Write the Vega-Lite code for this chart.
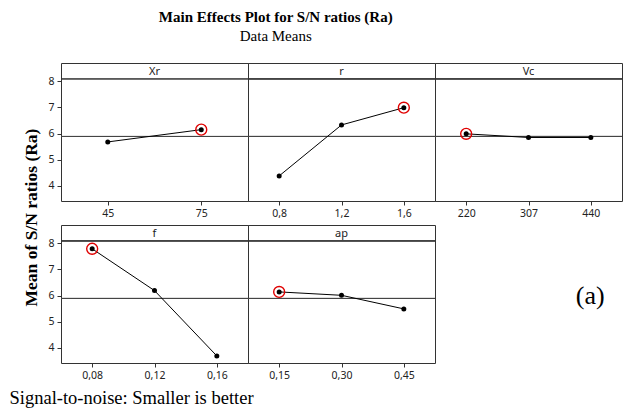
{
  "$schema": "https://vega.github.io/schema/vega-lite/v6.json",
  "padding": {"left": 8, "right": 2, "top": 9, "bottom": 5},
  "background": "white",
  "datasets": {
    "main": [
      {"factor": "Xr", "level": "45", "sn": 5.68},
      {"factor": "Xr", "level": "75", "sn": 6.15},
      {"factor": "r", "level": "0,8", "sn": 4.38},
      {"factor": "r", "level": "1,2", "sn": 6.33},
      {"factor": "r", "level": "1,6", "sn": 6.99},
      {"factor": "Vc", "level": "220", "sn": 5.99},
      {"factor": "Vc", "level": "307", "sn": 5.85},
      {"factor": "Vc", "level": "440", "sn": 5.85},
      {"factor": "f", "level": "0,08", "sn": 7.79},
      {"factor": "f", "level": "0,12", "sn": 6.19},
      {"factor": "f", "level": "0,16", "sn": 3.69},
      {"factor": "ap", "level": "0,15", "sn": 6.14},
      {"factor": "ap", "level": "0,30", "sn": 6.01},
      {"factor": "ap", "level": "0,45", "sn": 5.49}
    ],
    "note": [{"label": "(a)"}]
  },
  "title": {
    "text": "Main Effects Plot for S/N ratios (Ra)",
    "subtitle": "Data Means",
    "font": "Liberation Serif",
    "fontSize": 15,
    "fontWeight": "bold",
    "color": "black",
    "subtitleFont": "Liberation Serif",
    "subtitleFontSize": 15,
    "subtitleColor": "black",
    "subtitlePadding": 4,
    "anchor": "middle",
    "dx": -40,
    "offset": 19
  },
  "config": {
    "view": {"stroke": "#333", "strokeWidth": 1},
    "axis": {
      "labelFont": "Noto Sans",
      "labelFontSize": 10.5,
      "labelColor": "#222",
      "tickColor": "#333",
      "tickSize": 4,
      "domain": false,
      "grid": false
    },
    "title": {"font": "Noto Sans", "fontSize": 11, "fontWeight": "normal", "color": "#222"}
  },
  "columns": 3,
  "spacing": {"row": 24, "column": 0},
  "bounds": "flush",
  "concat": [
    {
      "width": 187, "height": 138,
      "data": {"name": "main"},
      "transform": [{"filter": "datum.factor == 'Xr'"}],
      "title": {"text": "Xr", "offset": -20, "baseline": "middle", "frame": "group", "anchor": "middle"},
      "layer": [
        {"mark": {"type": "rule", "color": "#444", "strokeWidth": 1}, "encoding": {"y": {"datum": 5.89, "type": "quantitative", "scale": {"domain": [3.42, 8.7], "nice": false, "zero": false}, "axis": {"values": [4, 5, 6, 7, 8], "title": "Mean of S/N ratios (Ra)", "titleFont": "Liberation Serif", "titleFontSize": 17.5, "titleFontWeight": "bold", "titleColor": "black", "titlePadding": 7, "titleY": 154, "labelPadding": 3}}}},
        {"mark": {"type": "rule", "color": "#333", "strokeWidth": 1}, "encoding": {"y": {"datum": 8.09, "type": "quantitative", "scale": {"domain": [3.42, 8.7], "nice": false, "zero": false}, "axis": {"values": [4, 5, 6, 7, 8], "title": "Mean of S/N ratios (Ra)", "titleFont": "Liberation Serif", "titleFontSize": 17.5, "titleFontWeight": "bold", "titleColor": "black", "titlePadding": 7, "titleY": 154, "labelPadding": 3}}}},
        {"mark": {"type": "line", "color": "black", "strokeWidth": 1},
         "encoding": {
           "x": {"field": "level", "type": "ordinal", "scale": {"type": "point", "padding": 0.5}, "axis": {"title": null, "labelAngle": 0, "labelPadding": 3}},
           "y": {"field": "sn", "type": "quantitative", "scale": {"domain": [3.42, 8.7], "nice": false, "zero": false}, "axis": {"values": [4, 5, 6, 7, 8], "title": "Mean of S/N ratios (Ra)", "titleFont": "Liberation Serif", "titleFontSize": 17.5, "titleFontWeight": "bold", "titleColor": "black", "titlePadding": 7, "titleY": 154, "labelPadding": 3}}}},
        {"mark": {"type": "point", "filled": true, "color": "black", "size": 25, "opacity": 1},
         "encoding": {
           "x": {"field": "level", "type": "ordinal", "axis": {"title": null, "labelAngle": 0, "labelPadding": 3}},
           "y": {"field": "sn", "type": "quantitative", "axis": {"values": [4, 5, 6, 7, 8], "title": "Mean of S/N ratios (Ra)", "titleFont": "Liberation Serif", "titleFontSize": 17.5, "titleFontWeight": "bold", "titleColor": "black", "titlePadding": 7, "titleY": 154, "labelPadding": 3}}}},
        {"transform": [{"joinaggregate": [{"op": "max", "field": "sn", "as": "mx"}]}, {"filter": "datum.sn == datum.mx"}],
         "mark": {"type": "point", "filled": false, "color": "#e00000", "size": 120, "strokeWidth": 1.4, "opacity": 1},
         "encoding": {
           "x": {"field": "level", "type": "ordinal", "axis": {"title": null, "labelAngle": 0, "labelPadding": 3}},
           "y": {"field": "sn", "type": "quantitative", "axis": {"values": [4, 5, 6, 7, 8], "title": "Mean of S/N ratios (Ra)", "titleFont": "Liberation Serif", "titleFontSize": 17.5, "titleFontWeight": "bold", "titleColor": "black", "titlePadding": 7, "titleY": 154, "labelPadding": 3}}}}
      ]
    },
    {
      "width": 187, "height": 138,
      "data": {"name": "main"},
      "transform": [{"filter": "datum.factor == 'r'"}],
      "title": {"text": "r", "offset": -20, "baseline": "middle", "frame": "group", "anchor": "middle"},
      "layer": [
        {"mark": {"type": "rule", "color": "#444", "strokeWidth": 1}, "encoding": {"y": {"datum": 5.89, "type": "quantitative", "scale": {"domain": [3.42, 8.7], "nice": false, "zero": false}, "axis": null}}},
        {"mark": {"type": "rule", "color": "#333", "strokeWidth": 1}, "encoding": {"y": {"datum": 8.09, "type": "quantitative", "scale": {"domain": [3.42, 8.7], "nice": false, "zero": false}, "axis": null}}},
        {"mark": {"type": "line", "color": "black", "strokeWidth": 1},
         "encoding": {
           "x": {"field": "level", "type": "ordinal", "scale": {"type": "point", "padding": 0.5}, "axis": {"title": null, "labelAngle": 0, "labelPadding": 3}},
           "y": {"field": "sn", "type": "quantitative", "scale": {"domain": [3.42, 8.7], "nice": false, "zero": false}, "axis": null}}},
        {"mark": {"type": "point", "filled": true, "color": "black", "size": 25, "opacity": 1},
         "encoding": {"x": {"field": "level", "type": "ordinal", "axis": {"title": null, "labelAngle": 0, "labelPadding": 3}}, "y": {"field": "sn", "type": "quantitative", "axis": null}}},
        {"transform": [{"joinaggregate": [{"op": "max", "field": "sn", "as": "mx"}]}, {"filter": "datum.sn == datum.mx"}],
         "mark": {"type": "point", "filled": false, "color": "#e00000", "size": 120, "strokeWidth": 1.4, "opacity": 1},
         "encoding": {"x": {"field": "level", "type": "ordinal", "axis": {"title": null, "labelAngle": 0, "labelPadding": 3}}, "y": {"field": "sn", "type": "quantitative", "axis": null}}}
      ]
    },
    {
      "width": 187, "height": 138,
      "data": {"name": "main"},
      "transform": [{"filter": "datum.factor == 'Vc'"}],
      "title": {"text": "Vc", "offset": -20, "baseline": "middle", "frame": "group", "anchor": "middle"},
      "layer": [
        {"mark": {"type": "rule", "color": "#444", "strokeWidth": 1}, "encoding": {"y": {"datum": 5.89, "type": "quantitative", "scale": {"domain": [3.42, 8.7], "nice": false, "zero": false}, "axis": null}}},
        {"mark": {"type": "rule", "color": "#333", "strokeWidth": 1}, "encoding": {"y": {"datum": 8.09, "type": "quantitative", "scale": {"domain": [3.42, 8.7], "nice": false, "zero": false}, "axis": null}}},
        {"mark": {"type": "line", "color": "black", "strokeWidth": 1},
         "encoding": {
           "x": {"field": "level", "type": "ordinal", "scale": {"type": "point", "padding": 0.5}, "axis": {"title": null, "labelAngle": 0, "labelPadding": 3}},
           "y": {"field": "sn", "type": "quantitative", "scale": {"domain": [3.42, 8.7], "nice": false, "zero": false}, "axis": null}}},
        {"mark": {"type": "point", "filled": true, "color": "black", "size": 25, "opacity": 1},
         "encoding": {"x": {"field": "level", "type": "ordinal", "axis": {"title": null, "labelAngle": 0, "labelPadding": 3}}, "y": {"field": "sn", "type": "quantitative", "axis": null}}},
        {"transform": [{"joinaggregate": [{"op": "max", "field": "sn", "as": "mx"}]}, {"filter": "datum.sn == datum.mx"}],
         "mark": {"type": "point", "filled": false, "color": "#e00000", "size": 120, "strokeWidth": 1.4, "opacity": 1},
         "encoding": {"x": {"field": "level", "type": "ordinal", "axis": {"title": null, "labelAngle": 0, "labelPadding": 3}}, "y": {"field": "sn", "type": "quantitative", "axis": null}}}
      ]
    },
    {
      "width": 187, "height": 138,
      "data": {"name": "main"},
      "transform": [{"filter": "datum.factor == 'f'"}],
      "title": {"text": "f", "offset": -20, "baseline": "middle", "frame": "group", "anchor": "middle"},
      "layer": [
        {"mark": {"type": "rule", "color": "#444", "strokeWidth": 1}, "encoding": {"y": {"datum": 5.89, "type": "quantitative", "scale": {"domain": [3.42, 8.7], "nice": false, "zero": false}, "axis": {"values": [4, 5, 6, 7, 8], "title": null, "labelPadding": 3}}}},
        {"mark": {"type": "rule", "color": "#333", "strokeWidth": 1}, "encoding": {"y": {"datum": 8.09, "type": "quantitative", "scale": {"domain": [3.42, 8.7], "nice": false, "zero": false}, "axis": {"values": [4, 5, 6, 7, 8], "title": null, "labelPadding": 3}}}},
        {"mark": {"type": "line", "color": "black", "strokeWidth": 1},
         "encoding": {
           "x": {"field": "level", "type": "ordinal", "scale": {"type": "point", "padding": 0.5},
                 "axis": {"title": "Signal-to-noise: Smaller is better", "titleFont": "Liberation Serif", "titleFontSize": 18.5, "titleFontWeight": "normal", "titleColor": "black", "titleAnchor": "start", "titleAlign": "left", "titleX": -52, "titleY": 40, "titleBaseline": "alphabetic", "labelAngle": 0, "labelPadding": 3}},
           "y": {"field": "sn", "type": "quantitative", "scale": {"domain": [3.42, 8.7], "nice": false, "zero": false}, "axis": {"values": [4, 5, 6, 7, 8], "title": null, "labelPadding": 3}}}},
        {"mark": {"type": "point", "filled": true, "color": "black", "size": 25, "opacity": 1},
         "encoding": {
           "x": {"field": "level", "type": "ordinal", "axis": {"title": "Signal-to-noise: Smaller is better", "titleFont": "Liberation Serif", "titleFontSize": 18.5, "titleFontWeight": "normal", "titleColor": "black", "titleAnchor": "start", "titleAlign": "left", "titleX": -52, "titleY": 40, "titleBaseline": "alphabetic", "labelAngle": 0, "labelPadding": 3}},
           "y": {"field": "sn", "type": "quantitative", "axis": {"values": [4, 5, 6, 7, 8], "title": null, "labelPadding": 3}}}},
        {"transform": [{"joinaggregate": [{"op": "max", "field": "sn", "as": "mx"}]}, {"filter": "datum.sn == datum.mx"}],
         "mark": {"type": "point", "filled": false, "color": "#e00000", "size": 120, "strokeWidth": 1.4, "opacity": 1},
         "encoding": {
           "x": {"field": "level", "type": "ordinal", "axis": {"title": "Signal-to-noise: Smaller is better", "titleFont": "Liberation Serif", "titleFontSize": 18.5, "titleFontWeight": "normal", "titleColor": "black", "titleAnchor": "start", "titleAlign": "left", "titleX": -52, "titleY": 40, "titleBaseline": "alphabetic", "labelAngle": 0, "labelPadding": 3}},
           "y": {"field": "sn", "type": "quantitative", "axis": {"values": [4, 5, 6, 7, 8], "title": null, "labelPadding": 3}}}}
      ]
    },
    {
      "width": 187, "height": 138,
      "data": {"name": "main"},
      "transform": [{"filter": "datum.factor == 'ap'"}],
      "title": {"text": "ap", "offset": -20, "baseline": "middle", "frame": "group", "anchor": "middle"},
      "layer": [
        {"mark": {"type": "rule", "color": "#444", "strokeWidth": 1}, "encoding": {"y": {"datum": 5.89, "type": "quantitative", "scale": {"domain": [3.42, 8.7], "nice": false, "zero": false}, "axis": null}}},
        {"mark": {"type": "rule", "color": "#333", "strokeWidth": 1}, "encoding": {"y": {"datum": 8.09, "type": "quantitative", "scale": {"domain": [3.42, 8.7], "nice": false, "zero": false}, "axis": null}}},
        {"mark": {"type": "line", "color": "black", "strokeWidth": 1},
         "encoding": {
           "x": {"field": "level", "type": "ordinal", "scale": {"type": "point", "padding": 0.5}, "axis": {"title": null, "labelAngle": 0, "labelPadding": 3}},
           "y": {"field": "sn", "type": "quantitative", "scale": {"domain": [3.42, 8.7], "nice": false, "zero": false}, "axis": null}}},
        {"mark": {"type": "point", "filled": true, "color": "black", "size": 25, "opacity": 1},
         "encoding": {"x": {"field": "level", "type": "ordinal", "axis": {"title": null, "labelAngle": 0, "labelPadding": 3}}, "y": {"field": "sn", "type": "quantitative", "axis": null}}},
        {"transform": [{"joinaggregate": [{"op": "max", "field": "sn", "as": "mx"}]}, {"filter": "datum.sn == datum.mx"}],
         "mark": {"type": "point", "filled": false, "color": "#e00000", "size": 120, "strokeWidth": 1.4, "opacity": 1},
         "encoding": {"x": {"field": "level", "type": "ordinal", "axis": {"title": null, "labelAngle": 0, "labelPadding": 3}}, "y": {"field": "sn", "type": "quantitative", "axis": null}}}
      ]
    },
    {
      "width": 187, "height": 138,
      "view": {"stroke": null},
      "data": {"name": "note"},
      "mark": {"type": "text", "font": "Liberation Serif", "fontSize": 26, "color": "black", "baseline": "middle", "align": "center"},
      "encoding": {
        "text": {"field": "label"},
        "x": {"datum": 0.83, "type": "quantitative", "scale": {"domain": [0, 1]}, "axis": null},
        "y": {"datum": 0.483, "type": "quantitative", "scale": {"domain": [0, 1]}, "axis": null}
      }
    }
  ]
}
